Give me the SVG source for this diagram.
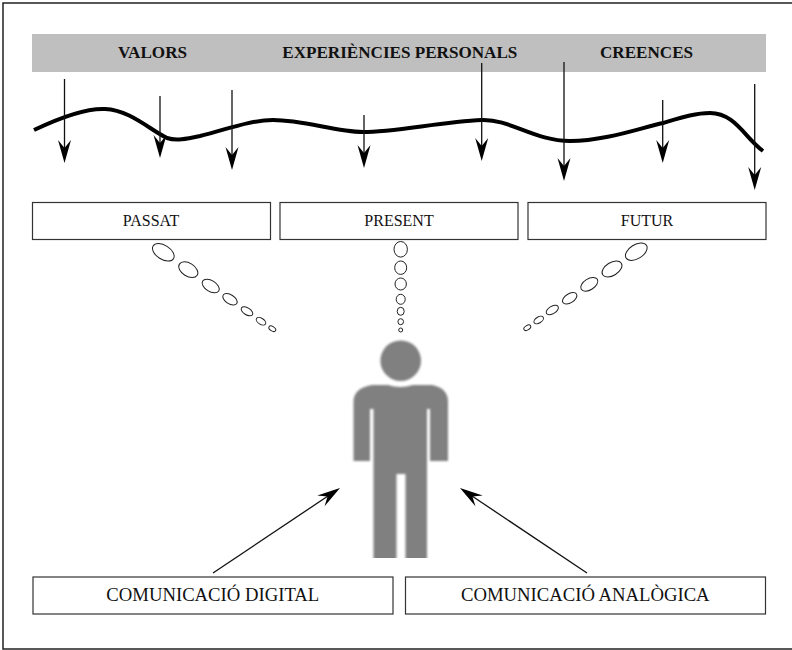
<svg xmlns="http://www.w3.org/2000/svg" width="792" height="650" viewBox="0 0 792 650">
<style>
.box{fill:#fff;stroke:#333;stroke-width:1.2}
.t{font-family:"Liberation Serif","Times New Roman",serif;fill:#111;text-anchor:middle}
.h{font-size:17.100px;font-weight:bold}
.s{font-size:16px}
.b{font-size:18.700px}
.a{stroke:#111;stroke-width:1.3;fill:none}
.ah{fill:#000;stroke:none}
.o{fill:#fff;stroke:#222;stroke-width:1}
</style>
<defs>
<filter id="soft" x="-5%" y="-5%" width="110%" height="110%"><feGaussianBlur stdDeviation="0.9"/></filter>
<clipPath id="crop"><rect x="340" y="330" width="120" height="228"/></clipPath>
<path id="hd" d="M0 0L-6.500 -23L0 -15L6.500 -23Z"/>
</defs>
<rect width="792" height="650" fill="#fff"/>
<rect x="3" y="3" width="800" height="646" fill="none" stroke="#222" stroke-width="1.5"/>
<g id="band">
<rect x="32" y="34" width="734" height="38" fill="#bfbfbf"/>
<text class="t h" x="152.500" y="57.500">VALORS</text>
<text class="t h" x="399.800" y="57.500">EXPERIÈNCIES PERSONALS</text>
<text class="t h" x="646.500" y="57.500">CREENCES</text>
</g>
<path id="wave" d="M34 130C55 120 85 108 105 109C130 110 150 130 167 138C176 141 186 139 200 136C225 130 250 120 273 120C305 120 335 132 363 132C395 132 440 122 482 120C510 119 535 141 570 141C605 141 640 128 663 123C680 118 695 113 710 113C735 113 745 138 763 151" fill="none" stroke="#000" stroke-width="4"/>
<g id="connectors">
<path class="a" d="M64.500 79V150"/><use href="#hd" class="ah" x="64.500" y="163"/>
<path class="a" d="M160 96V145"/><use href="#hd" class="ah" x="160" y="158"/>
<path class="a" d="M232 90V157"/><use href="#hd" class="ah" x="232" y="170"/>
<path class="a" d="M364 115V155"/><use href="#hd" class="ah" x="364" y="168"/>
<path class="a" d="M481.700 63V148"/><use href="#hd" class="ah" x="481.700" y="161"/>
<path class="a" d="M564 62V168"/><use href="#hd" class="ah" x="564" y="181"/>
<path class="a" d="M662.700 100V150"/><use href="#hd" class="ah" x="662.700" y="163"/>
<path class="a" d="M754.700 84V177"/><use href="#hd" class="ah" x="754.700" y="190"/>
<path class="a" d="M213 573L328 496"/><use href="#hd" class="ah" transform="translate(340 488) rotate(-124)"/>
<path class="a" d="M587 573L472 496"/><use href="#hd" class="ah" transform="translate(460 488) rotate(124)"/>
</g>
<g id="passat"><rect class="box" x="32.500" y="202.500" width="238" height="37"/><text class="t s" x="151" y="225.500">PASSAT</text></g>
<g id="present"><rect class="box" x="280" y="202.500" width="238" height="37"/><text class="t s" x="399" y="225.500">PRESENT</text></g>
<g id="futur"><rect class="box" x="528" y="202.500" width="238" height="37"/><text class="t s" x="647" y="225.500">FUTUR</text></g>
<g id="bubbles-passat">
<ellipse class="o" cx="163.300" cy="252.300" rx="12" ry="7" transform="rotate(32 163.300 252.300)"/>
<ellipse class="o" cx="188.300" cy="269.700" rx="10.500" ry="6.500" transform="rotate(32 188.300 269.700)"/>
<ellipse class="o" cx="210.700" cy="286" rx="9.500" ry="5.500" transform="rotate(32 210.700 286)"/>
<ellipse class="o" cx="230" cy="299.300" rx="8" ry="4.500" transform="rotate(32 230 299.300)"/>
<ellipse class="o" cx="247" cy="311.300" rx="6.500" ry="3.500" transform="rotate(32 247 311.300)"/>
<ellipse class="o" cx="261" cy="321.300" rx="5.300" ry="3" transform="rotate(32 261 321.300)"/>
<ellipse class="o" cx="272.300" cy="328.700" rx="3.800" ry="2.200" transform="rotate(32 272.300 328.700)"/>
</g>
<g id="bubbles-present">
<ellipse class="o" cx="400.700" cy="249.300" rx="6.700" ry="7.800"/>
<ellipse class="o" cx="400.700" cy="267.700" rx="6" ry="6.700"/>
<ellipse class="o" cx="400.700" cy="284" rx="5.700" ry="6"/>
<ellipse class="o" cx="400.700" cy="299.300" rx="4.500" ry="5"/>
<ellipse class="o" cx="400.700" cy="311.300" rx="3.500" ry="4"/>
<ellipse class="o" cx="400.700" cy="321.700" rx="2.800" ry="3"/>
<ellipse class="o" cx="400.700" cy="330" rx="2" ry="2"/>
</g>
<g id="bubbles-futur">
<ellipse class="o" cx="636.300" cy="251.700" rx="12" ry="7" transform="rotate(-32 636.300 251.700)"/>
<ellipse class="o" cx="612" cy="269" rx="11" ry="6.500" transform="rotate(-32 612 269)"/>
<ellipse class="o" cx="589.300" cy="284.300" rx="9.500" ry="5.500" transform="rotate(-32 589.300 284.300)"/>
<ellipse class="o" cx="569.700" cy="298.300" rx="8" ry="4.500" transform="rotate(-32 569.700 298.300)"/>
<ellipse class="o" cx="552.300" cy="310" rx="6.800" ry="3.700" transform="rotate(-32 552.300 310)"/>
<ellipse class="o" cx="538.700" cy="320" rx="5.300" ry="3" transform="rotate(-32 538.700 320)"/>
<ellipse class="o" cx="527.300" cy="327.700" rx="3.800" ry="2.200" transform="rotate(-32 527.300 327.700)"/>
</g>
<g id="person" clip-path="url(#crop)"><g fill="#808080" filter="url(#soft)">
<circle cx="400.700" cy="360.700" r="20.300"/>
<path d="M372 385L388 385Q400 389 413 385L432 385Q448 388 448 402V461H430V409H427V564H405.500V474H396.500V564H373.500V409H370V461H353.500V402Q353.500 388 372 385Z"/>
</g></g>
<g id="digital"><rect class="box" x="33" y="577" width="360" height="37"/><text class="t b" x="212.800" y="600.500">COMUNICACIÓ DIGITAL</text></g>
<g id="analogica"><rect class="box" x="405.500" y="577" width="360" height="37"/><text class="t b" x="585.300" y="600.500">COMUNICACIÓ ANALÒGICA</text></g>
</svg>
